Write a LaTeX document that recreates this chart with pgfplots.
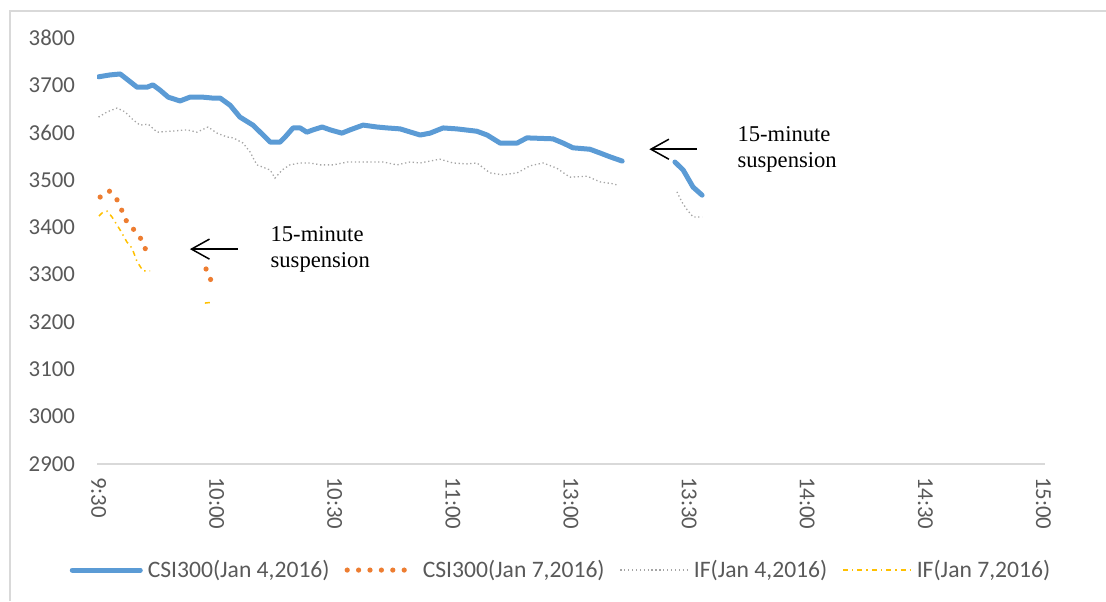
\documentclass[border=0pt]{standalone}
\usepackage{pgfplots}
\pgfplotsset{compat=1.18}
\usepackage{fontspec}
\setmainfont{Carlito}
\newfontfamily\serifann{Liberation Serif}
\usetikzlibrary{arrows.meta}
\definecolor{cblue}{HTML}{5B9BD5}
\definecolor{corange}{HTML}{ED7D31}
\definecolor{cgray}{HTML}{A5A5A5}
\definecolor{cyellow}{HTML}{FFC000}
\definecolor{ctext}{HTML}{595959}
\definecolor{cline}{HTML}{D9D9D9}
\begin{document}
\begin{tikzpicture}
\useasboundingbox (0,0) rectangle (553pt,300.5pt);
\draw[cline, line width=0.8pt] (5pt,0) -- (5pt,295pt) -- (553pt,295pt);
\begin{axis}[
  at={(48.5pt,68.5pt)}, anchor=south west,
  scale only axis, width=474pt, height=213pt,
  xmin=-0.4, xmax=240.4, ymin=2900, ymax=3800,
  axis x line*=bottom, axis y line*=left,
  x axis line style={draw=cline, line width=0.8pt, -},
  y axis line style={draw=none},
  major tick length=0pt,
  xtick={0,30,...,240},
  xticklabels={9:30,10:00,10:30,11:00,13:00,13:30,14:00,14:30,15:00},
  ytick={2900,3000,...,3800},
  /pgf/number format/.cd, 1000 sep={}, assume math mode=true, /pgfplots/.cd,
  tick label style={font=\fontsize{11.4}{13}\selectfont, text=ctext},
  xticklabel style={rotate=-90, anchor=west},
  xticklabel shift=3pt,
  yticklabel shift=7.5pt,
  unbounded coords=jump,
  legend columns=4,
  legend image code/.code={\draw[#1] (0pt,0pt) -- (34pt,0pt);},
  legend style={at={(0.491,-0.249)}, anchor=center, draw=none, fill=none,
    font=\fontsize{11.8}{13}\selectfont, text=ctext,
    nodes={inner xsep=2.5pt},
    /tikz/every even column/.append style={column sep=5pt}},
]
\addplot[cblue, line width=2.5pt, line cap=round, line join=round] coordinates {
(0,3718) (2.9,3722) (5.5,3724) (7.5,3711) (9.8,3696) (12.3,3696) (13.8,3701) (15.6,3690) (17.7,3675) (20.7,3667) (23.2,3675) (26.5,3675) (29.1,3673) (30.9,3673) (33.4,3658) (35.9,3633) (39.2,3616) (41.8,3595) (43.6,3580) (46.1,3580) (47.4,3591) (49.4,3610) (51.2,3610) (52.9,3601) (54.5,3606) (56.8,3612) (58.8,3606) (61.8,3599) (63.9,3606) (67.2,3616) (70.7,3612) (73.3,3610) (76.6,3608) (81.7,3595) (84.2,3599) (87.5,3610) (91.0,3608) (96.1,3603) (98.7,3595) (102.0,3578) (106.3,3578) (108.8,3589) (115.4,3587) (118.0,3578) (120.5,3568) (124.8,3565) (127.4,3557) (129.9,3549) (133.0,3540)
(140,nan)
(146.4,3538) (148.5,3521) (151.0,3485) (153.3,3468)
};
\addlegendentry{CSI300(Jan 4,2016)}
\addplot[corange, line width=2.6pt, line cap=round, dash pattern=on 0pt off 5.7pt] coordinates {
(0.4,3464) (2.7,3477) (4.7,3458) (6.0,3434) (7.2,3411) (9.3,3392) (11.0,3373) (12.1,3350)
(20,nan)
(27.3,3312) (28.6,3287)
};
\addlegendentry{CSI300(Jan 7,2016)}
\addplot[cgray, line width=0.65pt, dash pattern=on 0.65pt off 1.3pt] coordinates {
(0,3633) (2.2,3644) (4.7,3652) (6.7,3644) (8.8,3627) (10.5,3616) (12.6,3618) (14.9,3601) (18.2,3603) (22.5,3606) (25.0,3601) (27.8,3612) (30.1,3599) (32.6,3591) (34.2,3589) (36.7,3578) (38.5,3559) (40.2,3532) (41.8,3527) (43.6,3521) (44.8,3504) (46.6,3521) (48.6,3532) (51.2,3536) (53.7,3536) (56.3,3532) (59.6,3532) (63.2,3538) (68.2,3538) (72.3,3538) (75.8,3532) (79.1,3538) (81.7,3536) (86.7,3544) (90.0,3536) (93.6,3534) (96.1,3536) (99.4,3515) (102.7,3511) (106.3,3515) (109.6,3530) (112.9,3536) (116.4,3525) (119.7,3506) (124.1,3508) (127.4,3496) (130.7,3492) (131.9,3489)
(140,nan)
(146.9,3475) (148.2,3453) (149.5,3437) (151.0,3422) (153.3,3422)
};
\addlegendentry{IF(Jan 4,2016)}
\addplot[cyellow, line width=0.75pt, dash pattern=on 2.5pt off 2pt on 0.7pt off 2pt] coordinates {
(0.1,3424) (1.1,3432) (2.2,3434) (3.4,3422) (5.5,3394) (7.2,3369) (8.5,3356) (9.8,3327) (11.3,3308) (13.1,3308)
(20,nan)
(27.0,3240) (29.1,3242)
};
\addlegendentry{IF(Jan 7,2016)}
\draw[-{Straight Barb[length=9pt,width=10pt]}, line width=0.75pt] (axis cs:35.4,3354) -- (axis cs:23.2,3354);
\node[anchor=west, align=left, inner sep=0pt, font=\serifann\fontsize{11.3}{13}\selectfont] at (axis cs:43.6,3354) {15-minute\\suspension};
\draw[-{Straight Barb[length=9pt,width=10pt]}, line width=0.75pt] (axis cs:152.0,3565) -- (axis cs:139.9,3565);
\node[anchor=west, align=left, inner sep=0pt, font=\serifann\fontsize{11.3}{13}\selectfont] at (axis cs:162.2,3565) {15-minute\\suspension};
\end{axis}
\end{tikzpicture}
\end{document}
